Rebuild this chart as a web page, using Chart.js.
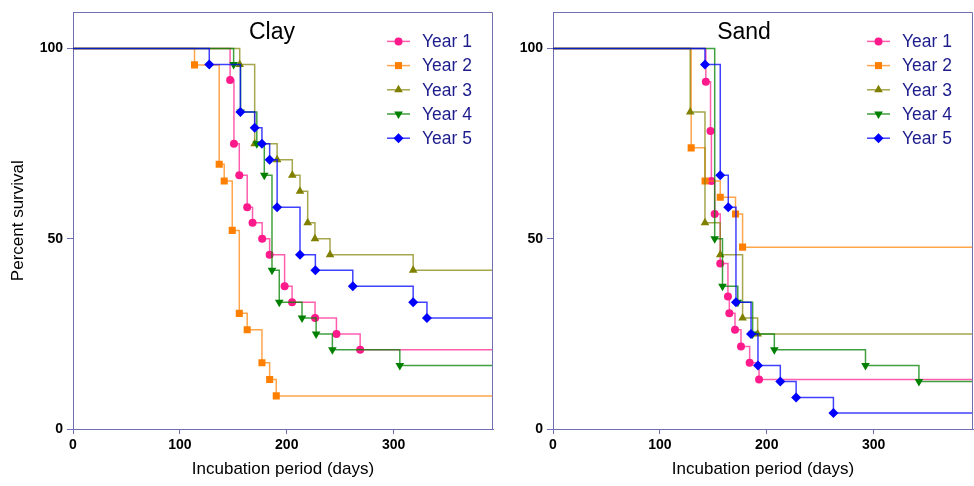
<!DOCTYPE html>
<html>
<head>
<meta charset="utf-8">
<script src="https://cdn.jsdelivr.net/npm/chart.js@4.4.1/dist/chart.umd.min.js"></script>
<style>
  body { margin: 0; background: #fff; }
  #wrap { position: relative; width: 974px; height: 486px; }
  canvas { position: absolute; top: 0; }
</style>
</head>
<body>
<div id="wrap">
  <canvas id="clay" width="500" height="486" style="left:0"></canvas>
  <canvas id="sand" width="474" height="486" style="left:500px"></canvas>
</div>
<script>
// axis ranges and tick labels
var XMAX = 393;
var YMAX = 109.5;
var xTickValues = [0, 100, 200, 300];
var yTickValues = [0, 50, 100];

var seriesNames = ['Year 1', 'Year 2', 'Year 3', 'Year 4', 'Year 5'];

// Clay : event days and percent survival after each drop
var clayDays1 = [147, 150.6, 155.6, 163, 168, 177, 184, 198, 205, 226.5, 246.5, 268.7];
var claySurv1 = [91.7, 75, 66.7, 58.3, 54.2, 50, 45.8, 37.5, 33.3, 29.2, 25, 20.8];
var clayDays2 = [113.7, 136.8, 141.5, 149, 155.6, 163, 176.8, 184, 190.2];
var claySurv2 = [95.7, 69.6, 65.2, 52.2, 30.4, 26.1, 17.4, 13.0, 8.7];
var clayDays3 = [156, 170, 191, 205.2, 212.4, 219.6, 226.4, 240.5, 318.3];
var claySurv3 = [95.8, 75, 70.8, 66.7, 62.5, 54.2, 50, 45.8, 41.7];
var clayDays4 = [150.3, 156.8, 172, 179, 186.2, 193, 214.3, 227.5, 242.7, 305.8];
var claySurv4 = [95.8, 83.3, 75, 66.7, 41.7, 33.3, 29.2, 25, 20.8, 16.7];
var clayDays5 = [127.5, 156.6, 170, 176.8, 184, 191, 212.4, 226.8, 261.8, 318.3, 331.2];
var claySurv5 = [95.8, 83.3, 79.2, 75, 70.8, 58.3, 45.8, 41.7, 37.5, 33.3, 29.2];

// Sand
var sandDays1 = [143, 147.4, 148.2, 151.3, 156.5, 163.7, 165, 170.3, 175.9, 184, 192.8];
var sandSurv1 = [91.3, 78.3, 65.2, 56.5, 43.5, 34.8, 30.4, 26.1, 21.7, 17.4, 13.0];
var sandDays2 = [129.3, 142.3, 156.5, 170.8, 177.4];
var sandSurv2 = [73.9, 65.2, 60.9, 56.5, 47.8];
var sandDays3 = [128.4, 142.2, 156.5, 177.4, 191.5];
var sandSurv3 = [83.3, 54.2, 45.8, 29.2, 25];
var sandDays4 = [151.3, 158.6, 172.9, 186.8, 207.1, 292.4, 342.4];
var sandSurv4 = [50, 37.5, 33.3, 25, 20.8, 16.7, 12.5];
var sandDays5 = [142.2, 156.5, 164, 171.2, 185.3, 191.8, 212.7, 227.5, 262.4];
var sandSurv5 = [95.8, 66.7, 58.3, 33.3, 25, 16.7, 12.5, 8.3, 4.2];

// styles
var FONT = '"Liberation Sans", Arial, sans-serif';
var FRAME = '#6f6fb2';
var markerColors = ['#ff1a8c', '#ff8000', '#808000', '#008000', '#0000ff'];
var lineColors = ['rgba(255,26,140,0.7)', 'rgba(255,128,0,0.7)', 'rgba(128,128,0,0.7)', 'rgba(0,128,0,0.75)', 'rgba(0,0,255,0.75)'];
var markerStyles = ['circle', 'rect', 'triangle', 'triangle', 'rectRot'];
var markerRotation = [0, 0, 0, 180, 0];
var markerSize = [4, 5, 5, 5, 5];

function buildPoints(days, surv) {
    var pts = [{x: 0, y: 100}];
    for (var i = 0; i < days.length; i++) {
        pts.push({x: days[i], y: surv[i]});
    }
    pts.push({x: XMAX, y: 0});
    return pts;
}

// legend marker (same geometry as chart.js point styles)
function drawMarker(ctx, style, rot, r, x, y) {
    ctx.beginPath();
    if (style === 'circle') {
        ctx.arc(x, y, r, 0, Math.PI * 2);
    } else if (style === 'rect') {
        var s = Math.SQRT1_2 * r;
        ctx.rect(x - s, y - s, 2 * s, 2 * s);
    } else if (style === 'rectRot') {
        ctx.moveTo(x - r, y);
        ctx.lineTo(x, y - r);
        ctx.lineTo(x + r, y);
        ctx.lineTo(x, y + r);
    } else {
        var a = rot * Math.PI / 180;
        for (var k = 0; k < 3; k++) {
            var px = x + Math.sin(a) * r, py = y - Math.cos(a) * r;
            if (k === 0) ctx.moveTo(px, py); else ctx.lineTo(px, py);
            a += Math.PI * 2 / 3;
        }
    }
    ctx.closePath();
    ctx.fill();
}

var panelDecor = {
    id: 'panelDecor',
    afterDraw: function (chart, args, opts) {
        var ctx = chart.ctx;
        var a = chart.chartArea;
        ctx.save();

        // top and right frame lines
        ctx.strokeStyle = FRAME;
        ctx.lineWidth = 1;
        ctx.beginPath();
        ctx.moveTo(Math.round(a.left) + 0.5, Math.round(a.top) + 0.5);
        ctx.lineTo(Math.round(a.right) - 0.5, Math.round(a.top) + 0.5);
        ctx.lineTo(Math.round(a.right) - 0.5, Math.round(a.bottom));
        ctx.stroke();

        // panel title
        ctx.fillStyle = '#000';
        ctx.font = '23px ' + FONT;
        ctx.textAlign = 'center';
        ctx.textBaseline = 'alphabetic';
        ctx.fillText(opts.title, a.left + opts.titleX, a.top + 27);

        // legend
        ctx.font = '17.5px ' + FONT;
        ctx.textAlign = 'left';
        ctx.textBaseline = 'middle';
        for (var i = 0; i < seriesNames.length; i++) {
            var y = a.top + 29 + i * 24.2;
            ctx.strokeStyle = lineColors[i];
            ctx.lineWidth = 1.5;
            ctx.beginPath();
            ctx.moveTo(a.right - 106, y);
            ctx.lineTo(a.right - 83, y);
            ctx.stroke();
            ctx.fillStyle = markerColors[i];
            drawMarker(ctx, markerStyles[i], markerRotation[i], markerSize[i], a.right - 94.5, y);
            ctx.fillStyle = '#1c1c8c';
            ctx.fillText(seriesNames[i], a.right - 71, y + 1);
        }
        ctx.restore();
    }
};

function makePanel(id, title, titleX, daysList, survList, yTitle, yWidth, rightPad) {
    var datasets = [];
    for (var i = 0; i < seriesNames.length; i++) {
        (function (i) {
            var n = daysList[i].length;
            datasets.push({
                label: seriesNames[i],
                data: buildPoints(daysList[i], survList[i]),
                stepped: true,
                borderColor: lineColors[i],
                borderWidth: 1.5,
                backgroundColor: markerColors[i],
                pointBackgroundColor: markerColors[i],
                pointBorderWidth: 0,
                pointStyle: markerStyles[i],
                pointRotation: markerRotation[i],
                pointRadius: function (c) {
                    return (c.dataIndex === 0 || c.dataIndex === n + 1) ? 0 : markerSize[i];
                },
                order: 4 - i
            });
        })(i);
    }

    return new Chart(document.getElementById(id), {
        type: 'line',
        data: {datasets: datasets},
        options: {
            responsive: false,
            animation: false,
            events: [],
            layout: {padding: {top: 12, right: rightPad, left: 0, bottom: 0}},
            plugins: {
                legend: {display: false},
                tooltip: {enabled: false},
                panelDecor: {title: title, titleX: titleX}
            },
            scales: {
                x: {
                    type: 'linear',
                    min: 0,
                    max: XMAX,
                    afterBuildTicks: function (s) {
                        s.ticks = xTickValues.map(function (v) { return {value: v}; });
                    },
                    afterFit: function (s) { s.height = 57; },
                    ticks: {color: '#000', font: {family: FONT, size: 14, weight: 'bold'}, padding: 3, maxRotation: 0},
                    grid: {drawOnChartArea: false, drawTicks: true, tickLength: 5, color: FRAME},
                    border: {color: FRAME, width: 1},
                    title: {display: true, text: 'Incubation period (days)', color: '#000',
                        font: {family: FONT, size: 17}, padding: {top: 0, bottom: 6}}
                },
                y: {
                    min: 0,
                    max: YMAX,
                    afterBuildTicks: function (s) {
                        s.ticks = yTickValues.map(function (v) { return {value: v}; });
                    },
                    afterFit: function (s) { s.width = yWidth; },
                    ticks: {color: '#000', font: {family: FONT, size: 14, weight: 'bold'}, padding: 4},
                    grid: {drawOnChartArea: false, drawTicks: true, tickLength: 6, color: FRAME},
                    border: {color: FRAME, width: 1},
                    title: {display: yTitle !== '', text: yTitle, color: '#000',
                        font: {family: FONT, size: 17}, padding: {top: 8, bottom: 0}}
                }
            }
        },
        plugins: [panelDecor]
    });
}

makePanel('clay', 'Clay', 199,
    [clayDays1, clayDays2, clayDays3, clayDays4, clayDays5],
    [claySurv1, claySurv2, claySurv3, claySurv4, claySurv5],
    'Percent survival', 73, 7);

makePanel('sand', 'Sand', 191,
    [sandDays1, sandDays2, sandDays3, sandDays4, sandDays5],
    [sandSurv1, sandSurv2, sandSurv3, sandSurv4, sandSurv5],
    '', 53, 1);
</script>
</body>
</html>
